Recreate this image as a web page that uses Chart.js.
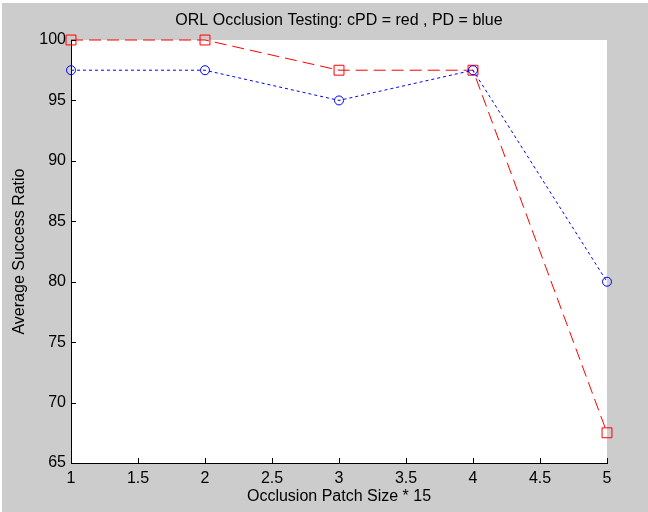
<!DOCTYPE html>
<html lang="en">
<head>
    <meta charset="UTF-8">
    <title>ORL Occlusion Testing</title>
    <script src="https://cdn.jsdelivr.net/npm/chart.js"></script>
    <style>
        body {
            margin: 0;
            background: #fff;
        }
        #chart {
            display: block;
        }
    </style>
</head>
<body>
    <canvas id="chart" width="648" height="512"></canvas>

    <script>
        // patch sizes (x) and success ratios
        const patchSizes = [1, 2, 3, 4, 5];
        const cpdRatio = [100, 100, 97.5, 97.5, 67.5];
        const pdRatio = [97.5, 97.5, 95, 97.5, 80];

        const fontFamily = "'Liberation Sans', Arial, sans-serif";

        // matlab style grey figure with white axes box
        const figureBackground = {
            id: "figureBackground",
            beforeDraw(chart) {
                const ctx = chart.ctx;
                const a = chart.chartArea;
                ctx.save();
                ctx.fillStyle = "#cccccc";
                ctx.fillRect(2, 3, chart.width - 2, chart.height - 3);
                ctx.fillStyle = "#ffffff";
                ctx.fillRect(a.left, a.top, a.right - a.left, a.bottom - a.top);
                ctx.restore();
            }
        };

        // tick marks pointing into the axes box
        const innerTicks = {
            id: "innerTicks",
            afterDatasetsDraw(chart) {
                const ctx = chart.ctx;
                const a = chart.chartArea;
                const len = 5;
                ctx.save();
                ctx.strokeStyle = "#000";
                ctx.lineWidth = 1;
                ctx.beginPath();
                chart.scales.x.ticks.forEach(t => {
                    const px = Math.round(chart.scales.x.getPixelForValue(t.value)) + 0.5;
                    ctx.moveTo(px, a.bottom);
                    ctx.lineTo(px, a.bottom - len);
                });
                chart.scales.y.ticks.forEach(t => {
                    const py = Math.round(chart.scales.y.getPixelForValue(t.value)) + 0.5;
                    ctx.moveTo(a.left, py);
                    ctx.lineTo(a.left + len, py);
                });
                ctx.stroke();
                ctx.restore();
            }
        };

        const toPoints = (ys) => patchSizes.map((x, i) => ({ x: x, y: ys[i] }));

        Chart.defaults.font.family = fontFamily;
        Chart.defaults.font.size = 16;
        Chart.defaults.color = "#000";

        new Chart(document.getElementById("chart"), {
            type: "line",
            data: {
                datasets: [
                    {
                        label: "PD",
                        data: toPoints(pdRatio),
                        borderColor: "#0000ff",
                        borderWidth: 1,
                        borderDash: [3, 3],
                        pointStyle: "circle",
                        pointRadius: 4.5,
                        pointBorderColor: "#0000ff",
                        pointBackgroundColor: "rgba(0,0,0,0)",
                        pointBorderWidth: 1,
                        tension: 0,
                        clip: false,
                        order: 1
                    },
                    {
                        label: "cPD",
                        data: toPoints(cpdRatio),
                        borderColor: "#ff0000",
                        borderWidth: 1,
                        borderDash: [12, 6],
                        pointStyle: "rect",
                        pointRadius: 7,
                        pointBorderColor: "#ff0000",
                        pointBackgroundColor: "rgba(0,0,0,0)",
                        pointBorderWidth: 1,
                        tension: 0,
                        clip: false,
                        order: 2
                    }
                ]
            },
            options: {
                responsive: false,
                animation: false,
                layout: {
                    padding: { left: 0, top: 0, right: 41, bottom: 0 }
                },
                plugins: {
                    legend: { display: false },
                    tooltip: { enabled: false },
                    title: {
                        display: true,
                        text: "ORL Occlusion Testing: cPD = red , PD = blue",
                        fullSize: false,
                        color: "#000",
                        font: { size: 16, weight: "normal" },
                        padding: { top: 11.4, bottom: 9.4 }
                    }
                },
                scales: {
                    x: {
                        type: "linear",
                        min: 1,
                        max: 5,
                        ticks: { stepSize: 0.5, padding: 6, color: "#000", callback: v => String(v) },
                        grid: { drawOnChartArea: false, drawTicks: false },
                        border: { color: "#000", width: 1 },
                        title: {
                            display: true,
                            text: "Occlusion Patch Size * 15",
                            color: "#000",
                            padding: { top: 0, bottom: 5.4 }
                        },
                        afterFit(scale) { scale.height = 49; }
                    },
                    y: {
                        min: 65,
                        max: 100,
                        ticks: { stepSize: 5, padding: 5, color: "#000", callback: v => String(v) },
                        grid: { drawOnChartArea: false, drawTicks: false },
                        border: { color: "#000", width: 1 },
                        title: {
                            display: true,
                            text: "Average Success Ratio",
                            color: "#000",
                            padding: { top: 10.4, bottom: 0 }
                        },
                        afterFit(scale) { scale.width = 71; }
                    }
                }
            },
            plugins: [figureBackground, innerTicks]
        });
    </script>
</body>
</html>
